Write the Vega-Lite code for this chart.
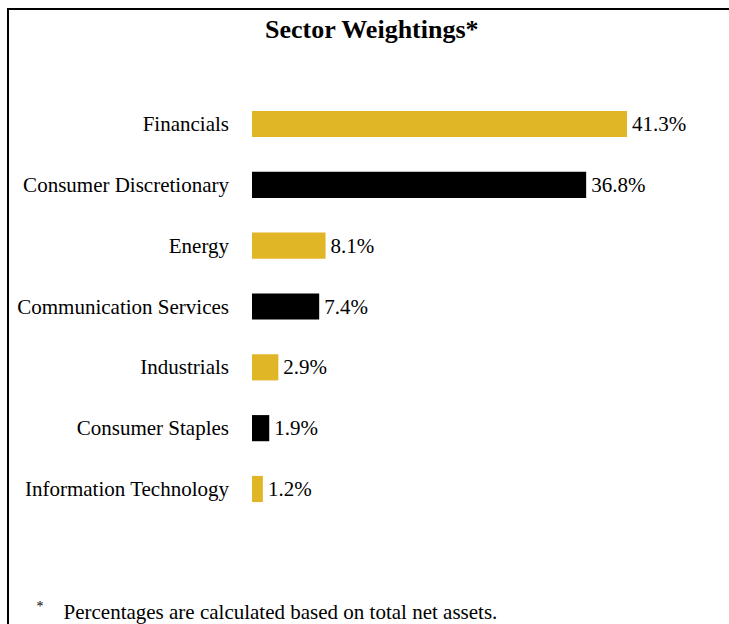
{
  "$schema": "https://vega.github.io/schema/vega-lite/v6.json",
  "autosize": {"type": "none"},
  "padding": {"left": 8, "top": 9, "right": 0, "bottom": 0},
  "width": 723,
  "height": 617,
  "background": "white",
  "config": {
    "view": {"stroke": "black", "strokeWidth": 2},
    "font": "Liberation Serif"
  },
  "title": {
    "text": "Sector Weightings*",
    "font": "Liberation Serif",
    "fontSize": 26,
    "fontWeight": "bold",
    "color": "black",
    "anchor": "start",
    "dx": 257,
    "dy": 26,
    "baseline": "alphabetic",
    "offset": -29,
    "orient": "top"
  },
  "data": {
    "values": [
      {"sector": "Financials", "value": 41.3, "label": "41.3%", "group": "a"},
      {"sector": "Consumer Discretionary", "value": 36.8, "label": "36.8%", "group": "b"},
      {"sector": "Energy", "value": 8.1, "label": "8.1%", "group": "a"},
      {"sector": "Communication Services", "value": 7.4, "label": "7.4%", "group": "b"},
      {"sector": "Industrials", "value": 2.9, "label": "2.9%", "group": "a"},
      {"sector": "Consumer Staples", "value": 1.9, "label": "1.9%", "group": "b"},
      {"sector": "Information Technology", "value": 1.2, "label": "1.2%", "group": "a"}
    ]
  },
  "encoding": {
    "y": {
      "field": "sector",
      "type": "nominal",
      "sort": null,
      "scale": {"paddingInner": 0.57, "paddingOuter": 0.285, "range": [84.6, 510.4]},
      "axis": {
        "labels": false, "ticks": false, "domain": false, "grid": false,
        "title": "*", "titleAngle": 0, "titleX": 28, "titleY": 590,
        "titleAlign": "left", "titleBaseline": "top",
        "titleFont": "Liberation Serif", "titleFontSize": 14, "titleFontWeight": "normal", "titleColor": "black"
      }
    }
  },
  "layer": [
    {
      "mark": {"type": "bar"},
      "encoding": {
        "x": {
          "field": "value", "type": "quantitative",
          "scale": {"domain": [-26.87, 52.75], "nice": false, "zero": false},
          "axis": {
            "labels": false, "ticks": false, "domain": false, "grid": false,
            "title": "Percentages are calculated based on total net assets.",
            "titleX": 55, "titleY": -8, "titleAlign": "left", "titleAnchor": "start",
            "titleBaseline": "alphabetic",
            "titleFont": "Liberation Serif", "titleFontSize": 21, "titleFontWeight": "normal", "titleColor": "black"
          }
        },
        "color": {
          "field": "group", "type": "nominal",
          "scale": {"domain": ["a", "b"], "range": ["#E1B626", "#000000"]},
          "legend": null
        }
      }
    },
    {
      "mark": {"type": "text", "align": "left", "baseline": "middle", "dx": 5, "dy": 1, "fontSize": 21, "font": "Liberation Serif", "color": "black"},
      "encoding": {
        "x": {"field": "value", "type": "quantitative"},
        "text": {"field": "label"}
      }
    },
    {
      "mark": {"type": "text", "align": "right", "baseline": "middle", "dx": -23, "dy": 1, "fontSize": 21, "font": "Liberation Serif", "color": "black"},
      "encoding": {
        "x": {"datum": 0},
        "text": {"field": "sector"}
      }
    }
  ]
}
